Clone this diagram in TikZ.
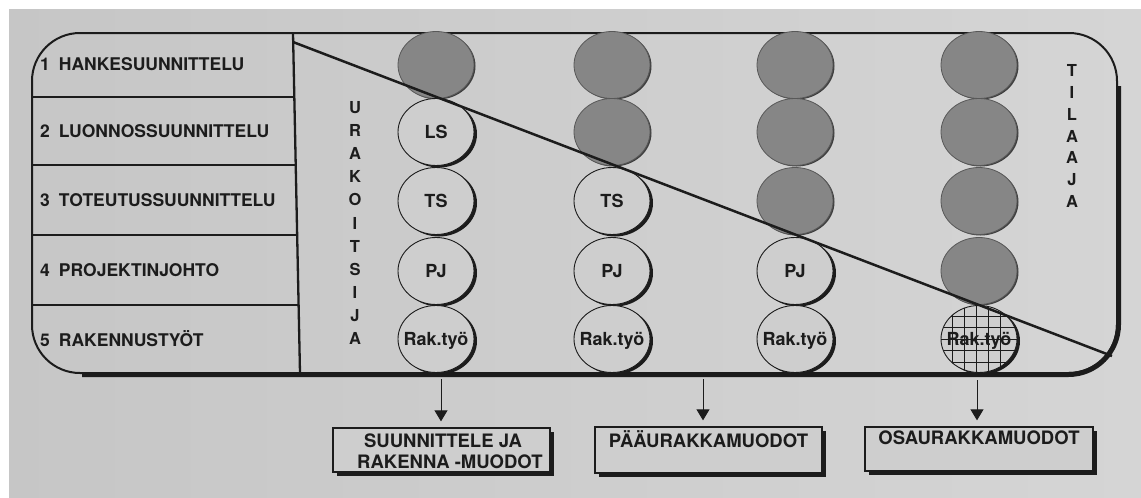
\documentclass[tikz,border=0pt]{standalone}
\usepackage{fontspec}
\setmainfont{TeX Gyre Heros}
\usetikzlibrary{shapes.geometric,shadows,arrows.meta}
\definecolor{paperL}{RGB}{198,198,198}
\definecolor{paperR}{RGB}{213,213,213}
\definecolor{paper}{RGB}{206,206,206}
\definecolor{ink}{RGB}{28,28,28}
\definecolor{tone}{RGB}{134,134,134}
\definecolor{toneline}{RGB}{88,88,88}
\newcommand\zw[1]{\makebox[0pt]{#1}}
\begin{document}
\begin{tikzpicture}[x=1pt,y=-1pt,
  every node/.style={text=ink},
  rowlabel/.style={anchor=base west, inner sep=0pt, font=\fontsize{17.5}{20}\selectfont\bfseries},
  cell/.style={ellipse, minimum width=76pt, minimum height=67pt, inner sep=0pt,
    text height=13pt, text depth=0pt, font=\fontsize{18}{20}\selectfont\bfseries},
  open/.style={cell, fill=paper, draw=ink, line width=0.9pt,
    drop shadow={shadow xshift=3pt, shadow yshift=-2pt, fill=ink, opacity=1}},
  toned/.style={cell, fill=tone, draw=toneline, line width=0.8pt,
    drop shadow={shadow xshift=1.5pt, shadow yshift=-1pt, fill=ink!85, opacity=1}},
  gridded/.style={open, path picture={
    \foreach \d in {-27,-15,-3,9,21}
      \draw[ink, line width=0.7pt] ([xshift=\d pt]path picture bounding box.north) -- ([xshift=\d pt]path picture bounding box.south);
    \foreach \d in {23,11.5,0,-11.5,-23}
      \draw[ink, line width=0.7pt] ([yshift=\d pt]path picture bounding box.west) -- ([yshift=\d pt]path picture bounding box.east);
  }},
  vlet/.style={align=center, inner sep=0pt, font=\fontsize{16.5}{23.15}\selectfont\bfseries},
  formbox/.style={draw=ink, line width=1.3pt, fill=paper, inner sep=0pt,
    drop shadow={shadow xshift=3.5pt, shadow yshift=-3.5pt, fill=ink, opacity=1}},
  boxtext/.style={inner sep=0pt, font=\fontsize{18.5}{21}\selectfont\bfseries},
  arr/.style={ink, line width=1pt, -{Triangle[width=13pt,length=11pt]}, shorten >=6pt},
]
\useasboundingbox (0,0) rectangle (1141,498);
% paper
\shade[left color=paperL, right color=paperR] (0,0) rectangle (1141,498);
\fill[white] (0,0) rectangle (1141,9);
\fill[white] (0,0) rectangle (9,498);

% outer frame with heavy lower and right edges
\draw[ink, line width=2pt, rounded corners=48pt] (32,33) rectangle (1117,373);
\draw[ink, line width=5pt, rounded corners=50pt] (1118.5,86) -- (1118.5,374.5) -- (82,374.5);

% phase table
\draw[ink, line width=2.3pt] (293,33) -- (300,373);
\foreach \y/\xr in {97/294.3,165/295.7,235/297.2,305/298.6}
  \draw[ink, line width=2.3pt] (32,\y) -- (\xr,\y);
\node[rowlabel] (r1) at (40,70)    {1\hspace{9pt}HANKESUUNNITTELU};
\node[rowlabel] (r2) at (40,137.5) {2\hspace{9pt}LUONNOSSUUNNITTELU};
\node[rowlabel] (r3) at (40,206)   {3\hspace{9pt}TOTEUTUSSUUNNITTELU};
\node[rowlabel] (r4) at (40,276.5) {4\hspace{9pt}PROJEKTINJOHTO};
\node[rowlabel] (r5) at (40,346)   {5\hspace{9pt}RAKENNUSTYÖT};

% party labels
\node[vlet] (urak) at (355,223) {U\\R\\A\\K\\O\\I\\T\\S\\I\\J\\A};
\node[vlet, font=\fontsize{16.5}{21.75}\selectfont\bfseries] (tila) at (1072,136) {T\\I\\L\\A\\A\\J\\A};

% column 1
\node[toned] (c11) at (436,65)  {};
\node[open]  (c12) at (436,132) {\zw{LS}};
\node[open]  (c13) at (436,201) {\zw{TS}};
\node[open]  (c14) at (436,271) {\zw{PJ}};
\node[open]  (c15) at (436,339) {\zw{Rak.työ}};
% column 2
\node[toned] (c21) at (612,65)  {};
\node[toned] (c22) at (612,132) {};
\node[open]  (c23) at (612,201) {\zw{TS}};
\node[open]  (c24) at (612,271) {\zw{PJ}};
\node[open]  (c25) at (612,339) {\zw{Rak.työ}};
% column 3
\node[toned] (c31) at (795,65)  {};
\node[toned] (c32) at (795,132) {};
\node[toned] (c33) at (795,201) {};
\node[open]  (c34) at (795,271) {\zw{PJ}};
\node[open]  (c35) at (795,339) {\zw{Rak.työ}};
% column 4
\node[toned]   (c41) at (979,65)  {};
\node[toned]   (c42) at (979,132) {};
\node[toned]   (c43) at (979,201) {};
\node[toned]   (c44) at (979,271) {};
\node[gridded] (c45) at (979,339) {\zw{Rak.työ}};

% dividing diagonal
\coordinate (dA) at (293,42);
\coordinate (dB) at (1112,356);
\draw[ink, line width=2.5pt] (dA) -- (dB);

% contract forms
\node[formbox, minimum width=217pt, minimum height=44pt] (b1) at (441.5,450) {};
\node[formbox, minimum width=227pt, minimum height=46pt] (b2) at (708.5,450) {};
\node[formbox, minimum width=228pt, minimum height=44pt] (b3) at (979,449) {};
\node[boxtext, anchor=base] (t1a) at (443,447.6) {SUUNNITTELE JA};
\node[boxtext, anchor=base] (t1b) at (450,468.6) {RAKENNA -MUODOT};
\node[boxtext, anchor=base] (t2) at (708.5,447) {PÄÄURAKKAMUODOT};
\node[boxtext, anchor=base] (t3) at (979,444) {OSAURAKKAMUODOT};

\coordinate (a1) at (441,379);
\coordinate (a2) at (703,379);
\coordinate (a3) at (977,380);
\draw[arr] (a1) -- (a1 |- b1.north);
\draw[arr] (a2) -- (a2 |- b2.north);
\draw[arr] (a3) -- (a3 |- b3.north);
\end{tikzpicture}
\end{document}
